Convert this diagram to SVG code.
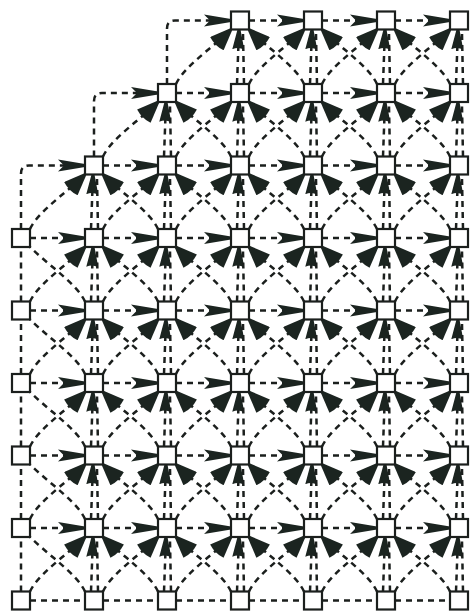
<svg xmlns="http://www.w3.org/2000/svg" width="470" height="612" viewBox="0 0 470 612">
<style>
.e{fill:none;stroke:#1b1f1d;stroke-width:2.5;stroke-dasharray:6 5;}
.n rect{fill:#fff;stroke:#1b1f1d;stroke-width:2.2;}
.w{fill:#1b2420;}
</style>
<defs>
<marker id="ah" markerUnits="userSpaceOnUse" viewBox="0 0 27 13" refX="27" refY="6.5" markerWidth="27" markerHeight="13" orient="auto"><path class="w" d="M0,0.5 L27,5 L27,8 L0,12.5 L6,6.5 Z"/></marker>
<marker id="ad" markerUnits="userSpaceOnUse" viewBox="-3 0 23 19" refX="20" refY="9.5" markerWidth="23" markerHeight="19" orient="auto"><path class="w" d="M20,8 L0,0 Q-3,9.5 0,19 L20,11 Z"/></marker>
<marker id="av" markerUnits="userSpaceOnUse" viewBox="0 0 20 12" refX="20" refY="6" markerWidth="20" markerHeight="12" orient="auto"><path class="w" d="M0,0 L20,4.5 L20,7.5 L0,12 Q3,6 0,0 Z"/></marker>
<path id="h" class="e" d="M-64,0 H-9" marker-end="url(#ah)"/>
<path id="hp" class="e" d="M-64,0 H-9"/>
<g id="v"><path class="e" d="M-3,63.5 L-1,9" marker-end="url(#av)"/><path class="e" d="M4,63.5 L3,13"/></g>
<path id="vp" class="e" d="M0,63.5 V9"/>
<path id="dl" class="e" d="M-64,63.5 C-56,46 -26,26 -9,9" marker-end="url(#ad)"/>
<path id="dr" class="e" d="M64,63.5 C56,46 26,26 9,9" marker-end="url(#ad)"/>
<path id="drp" class="e" d="M64,63.5 C56,46 26,26 9,9"/>
<path id="cn" class="e" d="M-73,63.5 V8 Q-73,0 -65,0 H-9" marker-end="url(#ah)"/>
<g id="in4"><use href="#h"/><use href="#v"/><use href="#dl"/><use href="#dr"/></g>
<g id="in3r"><use href="#h"/><use href="#v"/><use href="#dl"/></g>
<g id="inc"><use href="#cn"/><use href="#v"/><use href="#dl"/><use href="#dr"/></g>
<g id="lc"><use href="#vp"/><use href="#drp"/></g>
</defs>
<rect width="470" height="612" fill="#fff"/>
<g id="connectors">
<use href="#inc" x="240" y="20.5"/><use href="#inc" x="167" y="93"/><use href="#inc" x="94" y="165.5"/>
<use href="#in4" x="313" y="20.5"/><use href="#in4" x="386" y="20.5"/>
<use href="#in4" x="240" y="93"/><use href="#in4" x="313" y="93"/><use href="#in4" x="386" y="93"/>
<use href="#in4" x="167" y="165.5"/><use href="#in4" x="240" y="165.5"/><use href="#in4" x="313" y="165.5"/><use href="#in4" x="386" y="165.5"/>
<use href="#in4" x="94" y="238"/><use href="#in4" x="167" y="238"/><use href="#in4" x="240" y="238"/><use href="#in4" x="313" y="238"/><use href="#in4" x="386" y="238"/>
<use href="#in4" x="94" y="310.5"/><use href="#in4" x="167" y="310.5"/><use href="#in4" x="240" y="310.5"/><use href="#in4" x="313" y="310.5"/><use href="#in4" x="386" y="310.5"/>
<use href="#in4" x="94" y="383"/><use href="#in4" x="167" y="383"/><use href="#in4" x="240" y="383"/><use href="#in4" x="313" y="383"/><use href="#in4" x="386" y="383"/>
<use href="#in4" x="94" y="455.5"/><use href="#in4" x="167" y="455.5"/><use href="#in4" x="240" y="455.5"/><use href="#in4" x="313" y="455.5"/><use href="#in4" x="386" y="455.5"/>
<use href="#in4" x="94" y="528"/><use href="#in4" x="167" y="528"/><use href="#in4" x="240" y="528"/><use href="#in4" x="313" y="528"/><use href="#in4" x="386" y="528"/>
<use href="#in3r" x="459" y="20.5"/><use href="#in3r" x="459" y="93"/><use href="#in3r" x="459" y="165.5"/><use href="#in3r" x="459" y="238"/><use href="#in3r" x="459" y="310.5"/><use href="#in3r" x="459" y="383"/><use href="#in3r" x="459" y="455.5"/><use href="#in3r" x="459" y="528"/>
<use href="#lc" x="21" y="238"/><use href="#lc" x="21" y="310.5"/><use href="#lc" x="21" y="383"/><use href="#lc" x="21" y="455.5"/><use href="#lc" x="21" y="528"/>
<use href="#hp" x="94" y="600.5"/><use href="#hp" x="167" y="600.5"/><use href="#hp" x="240" y="600.5"/><use href="#hp" x="313" y="600.5"/><use href="#hp" x="386" y="600.5"/><use href="#hp" x="459" y="600.5"/>
</g>
<g id="nodes">
<g class="n" id="n0-3"><rect x="231" y="11.5" width="18" height="18"/></g>
<g class="n" id="n0-4"><rect x="304" y="11.5" width="18" height="18"/></g>
<g class="n" id="n0-5"><rect x="377" y="11.5" width="18" height="18"/></g>
<g class="n" id="n0-6"><rect x="450" y="11.5" width="18" height="18"/></g>
<g class="n" id="n1-2"><rect x="158" y="84" width="18" height="18"/></g>
<g class="n" id="n1-3"><rect x="231" y="84" width="18" height="18"/></g>
<g class="n" id="n1-4"><rect x="304" y="84" width="18" height="18"/></g>
<g class="n" id="n1-5"><rect x="377" y="84" width="18" height="18"/></g>
<g class="n" id="n1-6"><rect x="450" y="84" width="18" height="18"/></g>
<g class="n" id="n2-1"><rect x="85" y="156.5" width="18" height="18"/></g>
<g class="n" id="n2-2"><rect x="158" y="156.5" width="18" height="18"/></g>
<g class="n" id="n2-3"><rect x="231" y="156.5" width="18" height="18"/></g>
<g class="n" id="n2-4"><rect x="304" y="156.5" width="18" height="18"/></g>
<g class="n" id="n2-5"><rect x="377" y="156.5" width="18" height="18"/></g>
<g class="n" id="n2-6"><rect x="450" y="156.5" width="18" height="18"/></g>
<g class="n" id="n3-0"><rect x="12" y="229" width="18" height="18"/></g>
<g class="n" id="n3-1"><rect x="85" y="229" width="18" height="18"/></g>
<g class="n" id="n3-2"><rect x="158" y="229" width="18" height="18"/></g>
<g class="n" id="n3-3"><rect x="231" y="229" width="18" height="18"/></g>
<g class="n" id="n3-4"><rect x="304" y="229" width="18" height="18"/></g>
<g class="n" id="n3-5"><rect x="377" y="229" width="18" height="18"/></g>
<g class="n" id="n3-6"><rect x="450" y="229" width="18" height="18"/></g>
<g class="n" id="n4-0"><rect x="12" y="301.5" width="18" height="18"/></g>
<g class="n" id="n4-1"><rect x="85" y="301.5" width="18" height="18"/></g>
<g class="n" id="n4-2"><rect x="158" y="301.5" width="18" height="18"/></g>
<g class="n" id="n4-3"><rect x="231" y="301.5" width="18" height="18"/></g>
<g class="n" id="n4-4"><rect x="304" y="301.5" width="18" height="18"/></g>
<g class="n" id="n4-5"><rect x="377" y="301.5" width="18" height="18"/></g>
<g class="n" id="n4-6"><rect x="450" y="301.5" width="18" height="18"/></g>
<g class="n" id="n5-0"><rect x="12" y="374" width="18" height="18"/></g>
<g class="n" id="n5-1"><rect x="85" y="374" width="18" height="18"/></g>
<g class="n" id="n5-2"><rect x="158" y="374" width="18" height="18"/></g>
<g class="n" id="n5-3"><rect x="231" y="374" width="18" height="18"/></g>
<g class="n" id="n5-4"><rect x="304" y="374" width="18" height="18"/></g>
<g class="n" id="n5-5"><rect x="377" y="374" width="18" height="18"/></g>
<g class="n" id="n5-6"><rect x="450" y="374" width="18" height="18"/></g>
<g class="n" id="n6-0"><rect x="12" y="446.5" width="18" height="18"/></g>
<g class="n" id="n6-1"><rect x="85" y="446.5" width="18" height="18"/></g>
<g class="n" id="n6-2"><rect x="158" y="446.5" width="18" height="18"/></g>
<g class="n" id="n6-3"><rect x="231" y="446.5" width="18" height="18"/></g>
<g class="n" id="n6-4"><rect x="304" y="446.5" width="18" height="18"/></g>
<g class="n" id="n6-5"><rect x="377" y="446.5" width="18" height="18"/></g>
<g class="n" id="n6-6"><rect x="450" y="446.5" width="18" height="18"/></g>
<g class="n" id="n7-0"><rect x="12" y="519" width="18" height="18"/></g>
<g class="n" id="n7-1"><rect x="85" y="519" width="18" height="18"/></g>
<g class="n" id="n7-2"><rect x="158" y="519" width="18" height="18"/></g>
<g class="n" id="n7-3"><rect x="231" y="519" width="18" height="18"/></g>
<g class="n" id="n7-4"><rect x="304" y="519" width="18" height="18"/></g>
<g class="n" id="n7-5"><rect x="377" y="519" width="18" height="18"/></g>
<g class="n" id="n7-6"><rect x="450" y="519" width="18" height="18"/></g>
<g class="n" id="n8-0"><rect x="12" y="591.5" width="18" height="18"/></g>
<g class="n" id="n8-1"><rect x="85" y="591.5" width="18" height="18"/></g>
<g class="n" id="n8-2"><rect x="158" y="591.5" width="18" height="18"/></g>
<g class="n" id="n8-3"><rect x="231" y="591.5" width="18" height="18"/></g>
<g class="n" id="n8-4"><rect x="304" y="591.5" width="18" height="18"/></g>
<g class="n" id="n8-5"><rect x="377" y="591.5" width="18" height="18"/></g>
<g class="n" id="n8-6"><rect x="450" y="591.5" width="18" height="18"/></g>
</g>
</svg>
